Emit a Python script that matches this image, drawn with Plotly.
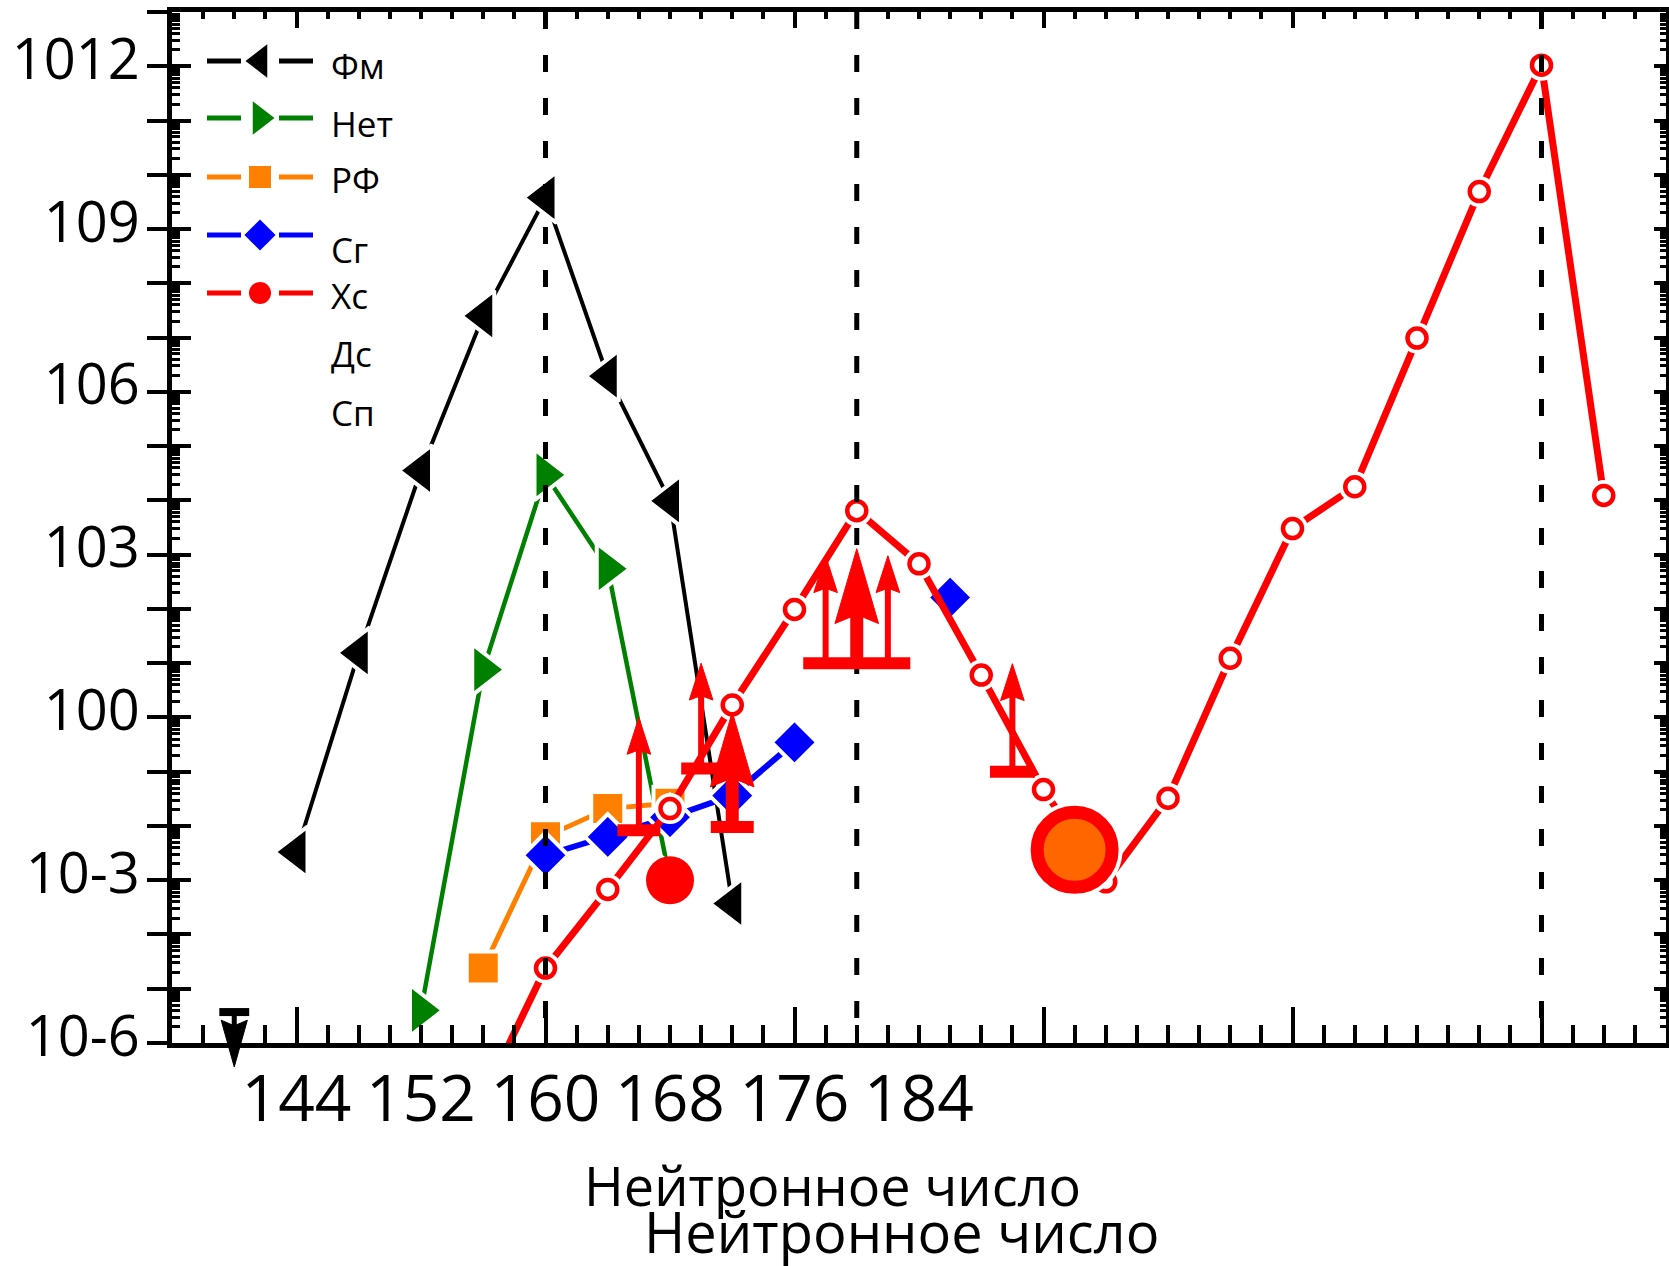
import plotly.graph_objects as go

# ---------------- data (neutron number, log10 half-life / s) ----------------
fm_n = [144, 146, 148, 150, 152, 154, 156, 158]
fm_log_t = [-2.48, 1.19, 4.55, 7.40, 9.58, 6.29, 3.99, -3.43]

no_n = [148, 150, 152, 154, 156]
no_log_t = [-5.40, 0.88, 4.47, 2.74, -3.00]

rf_n = [150, 152, 154, 156]
rf_log_t = [-4.62, -2.20, -1.68, -1.58]

sg_n = [152, 154, 156, 158, 160]
sg_log_t = [-2.54, -2.20, -1.84, -1.44, -0.46]
sg_iso_n = [165]
sg_iso_log_t = [2.21]

hs_n = [150, 152, 154, 156, 158, 160, 162, 164, 166, 168, 170, 172, 174, 176,
        178, 180, 182, 184, 186]
hs_log_t = [-7.00, -4.62, -3.17, -1.68, 0.23, 1.99, 3.81, 2.83, 0.78, -1.33,
            -3.03, -1.49, 1.09, 3.48, 4.25, 6.99, 9.69, 12.02, 4.09]

dot_n = [156]
dot_log_t = [-3.00]
big_n = [169]
big_log_t = [-2.44]

# lower limits (arrows up)
lim_n = [155, 157, 158, 161, 162, 163, 167]
lim_from = [-2.08, -0.94, -2.02, 1.00, 1.00, 1.00, -1.00]
lim_to = [0.00, 1.00, 0.10, 2.98, 3.11, 2.98, 0.99]
lim_thick = [False, False, True, False, True, False, False]
bar_n = [155, 157, 158, 162, 167]
bar_log_t = [-2.08, -0.94, -2.02, 1.00, -1.00]
bar_half = [0.69, 0.64, 0.69, 1.72, 0.72]

# upper limit (arrow down)
ul_n = [142]
ul_from = [-5.43]
ul_to = [-6.44]
ul_bar_half = [0.48]

magic_n = [152, 162, 184]

x_tick_pos = [144, 148, 152, 156, 160, 164]
x_tick_text = ["144", "152", "160", "168", "176", "184"]
y_label_exp = [-6, -3, 0, 3, 6, 9, 12]
y_label_text = ["10-6", "10-3", "100", "103", "106", "109", "1012"]

legend_names = ["Фм", "Нет", "РФ", "Сг", "Хс", "Дс", "Сп"]
axis_title = "Нейтронное число"

# ---------------- layout geometry ----------------
W, H = 1669, 1266
ML, MR, MT, MB = 172, 3, 12, 100
PW = W - ML - MR
PH = H - MT - MB
AXIS_BOTTOM = 1043
D0 = (H - MB - AXIS_BOTTOM) / PH
Y_LO, Y_HI = -6, 13
X_LO, X_HI = 140, 188
Y3_LO = Y_LO - (Y_HI - Y_LO) * D0 / (1 - D0)
MAIN_H = PH * (1 - D0)

BLACK, GREEN, ORANGE, BLUE, RED = "#000000", "#008000", "#ff8000", "#0000ff", "#ff0000"
FONT = "Open Sans"


def pw(v):
    return [10 ** e for e in v]


def paper(px, py):
    return (px - ML) / PW, (H - MB - py) / PH


fig = go.Figure()


def series(n, logt, color, lw, symbol, size):
    fig.add_trace(go.Scatter(
        x=n, y=pw(logt), mode="lines+markers",
        line=dict(color=color, width=lw),
        marker=dict(symbol=symbol, size=size, color=color,
                    line=dict(color="white", width=4)),
        showlegend=False, hoverinfo="skip"))


series(fm_n, fm_log_t, BLACK, 4, "triangle-left", 44)
series(no_n, no_log_t, GREEN, 4.5, "triangle-right", 44)
series(rf_n, rf_log_t, ORANGE, 5, "square", 33)
series(sg_n, sg_log_t, BLUE, 6, "diamond", 35)
fig.add_trace(go.Scatter(x=sg_iso_n, y=pw(sg_iso_log_t), mode="markers",
                         marker=dict(symbol="diamond", size=35, color=BLUE,
                                     line=dict(color="white", width=4)),
                         showlegend=False, hoverinfo="skip"))

# red series: line with white halos, then open circles
fig.add_trace(go.Scatter(x=hs_n, y=pw(hs_log_t), mode="lines+markers",
                         line=dict(color=RED, width=7),
                         marker=dict(size=31, color="white"),
                         showlegend=False, hoverinfo="skip"))
fig.add_trace(go.Scatter(x=hs_n, y=pw(hs_log_t), mode="markers",
                         marker=dict(size=19, color="white",
                                     line=dict(color=RED, width=4.5)),
                         showlegend=False, hoverinfo="skip"))
fig.add_trace(go.Scatter(x=big_n, y=pw(big_log_t), mode="markers",
                         marker=dict(size=96, color="white"),
                         showlegend=False, hoverinfo="skip"))
fig.add_trace(go.Scatter(x=big_n, y=pw(big_log_t), mode="markers",
                         marker=dict(size=75, color="#ff6600",
                                     line=dict(color=RED, width=13)),
                         showlegend=False, hoverinfo="skip"))
fig.add_trace(go.Scatter(x=dot_n, y=pw(dot_log_t), mode="markers",
                         marker=dict(size=48, color=RED),
                         showlegend=False, hoverinfo="skip"))

# dashed magic-number lines
for n in magic_n:
    fig.add_trace(go.Scatter(x=[n, n], y=[10 ** Y_HI, 10 ** Y_LO], mode="lines",
                             line=dict(color=BLACK, width=5, dash="17px,26px"),
                             showlegend=False, hoverinfo="skip"))

# invisible anchors so that the overlay tick axes get drawn
for xa, ya in [("x2", "y"), ("x4", "y"), ("x", "y2"), ("x", "y5")]:
    fig.add_trace(go.Scatter(x=[150], y=[1], xaxis=xa, yaxis=ya, mode="markers",
                             marker=dict(opacity=0), showlegend=False,
                             hoverinfo="skip"))

# ---------------- manual legend (overlay axes in pixel units) ----------------
leg_rows = [49, 106, 165, 223, 281]
leg_colors = [BLACK, GREEN, ORANGE, BLUE, RED]
leg_symbols = ["triangle-left", "triangle-right", "square", "diamond", "circle"]
leg_sizes = [29, 29, 22, 24, 22]
for r, c, s, sz in zip(leg_rows, leg_colors, leg_symbols, leg_sizes):
    fig.add_trace(go.Scatter(x=[35, 69, None, 107, 141], y=[r, r, None, r, r],
                             mode="lines", line=dict(color=c, width=5),
                             xaxis="x6", yaxis="y6", showlegend=False,
                             hoverinfo="skip"))
    fig.add_trace(go.Scatter(x=[88], y=[r], mode="markers",
                             marker=dict(symbol=s, size=sz, color=c),
                             xaxis="x6", yaxis="y6", showlegend=False,
                             hoverinfo="skip"))
leg_text_y = [53, 111, 167, 237, 283, 341, 400]
annotations = []
for name, ty in zip(legend_names, leg_text_y):
    annotations.append(dict(x=157, y=ty, xref="x6", yref="y6", text=name,
                            showarrow=False, xanchor="left", yanchor="middle",
                            font=dict(family=FONT, size=35, color=BLACK)))

# ---------------- limit arrows (separate, unclipped-below subplot) ----------------
def arrows(ns, froms, tos, head_len, head_half):
    sx, sy, hx, hy = [], [], [], []
    for n, a, b in zip(ns, froms, tos):
        d = 1 if b > a else -1
        neck = b - d * head_len
        sx += [n, n, None]
        sy += [10 ** a, 10 ** (neck + d * head_len * 0.3), None]
        hx += [n - head_half, n, n + head_half, n, n - head_half, None]
        hy += [10 ** neck, 10 ** b, 10 ** neck, 10 ** (neck + d * head_len * 0.12),
               10 ** neck, None]
    return sx, sy, hx, hy


def add_arrows(ns, froms, tos, head_len, head_half, shaft_w, color):
    sx, sy, hx, hy = arrows(ns, froms, tos, head_len, head_half)
    fig.add_trace(go.Scatter(x=sx, y=sy, mode="lines",
                             line=dict(color=color, width=shaft_w),
                             xaxis="x3", yaxis="y3", showlegend=False,
                             hoverinfo="skip"))
    fig.add_trace(go.Scatter(x=hx, y=hy, mode="lines", fill="toself",
                             fillcolor=color, line=dict(color=color, width=1),
                             xaxis="x3", yaxis="y3", showlegend=False,
                             hoverinfo="skip"))


def add_bars(ns, logt, halves, width, color):
    bx, by = [], []
    for n, v, h in zip(ns, logt, halves):
        bx += [n - h, n + h, None]
        by += [10 ** v, 10 ** v, None]
    fig.add_trace(go.Scatter(x=bx, y=by, mode="lines",
                             line=dict(color=color, width=width),
                             xaxis="x3", yaxis="y3", showlegend=False,
                             hoverinfo="skip"))


thin = [i for i, t in enumerate(lim_thick) if not t]
thick = [i for i, t in enumerate(lim_thick) if t]
add_bars(bar_n, bar_log_t, bar_half, 12, RED)
add_arrows([lim_n[i] for i in thin], [lim_from[i] for i in thin],
           [lim_to[i] for i in thin], 0.68, 0.38, 6, RED)
add_arrows([lim_n[i] for i in thick], [lim_from[i] for i in thick],
           [lim_to[i] for i in thick], 1.38, 0.70, 13, RED)
add_bars(ul_n, ul_from, ul_bar_half, 8, BLACK)
add_arrows(ul_n, ul_from, ul_to, 0.86, 0.42, 5, BLACK)

# ---------------- axis titles ----------------
tx1, ty1 = paper(832, 1185)
tx2, ty2 = paper(901, 1231)
annotations.append(dict(x=tx1, y=ty1, xref="paper", yref="paper", text=axis_title,
                        showarrow=False, xanchor="center", yanchor="middle",
                        font=dict(family=FONT, size=54, color=BLACK)))
annotations.append(dict(x=tx2, y=ty2, xref="paper", yref="paper", text=axis_title,
                        showarrow=False, xanchor="center", yanchor="middle",
                        font=dict(family=FONT, size=56, color=BLACK)))

# ---------------- axes ----------------
decades = list(range(Y_LO, Y_HI + 1))
dec_vals = [10 ** k for k in decades]
dec_text = [y_label_text[y_label_exp.index(k)] if k in y_label_exp else ""
            for k in decades]
minor_vals = [m * 10 ** k for k in range(Y_LO, Y_HI) for m in range(2, 10)]

common = dict(showgrid=False, zeroline=False, automargin=False)
fig.update_layout(
    width=W, height=H, autosize=False,
    margin=dict(l=ML, r=MR, t=MT, b=MB, pad=0, autoexpand=False),
    paper_bgcolor="white", plot_bgcolor="rgba(0,0,0,0)",
    font=dict(family=FONT, color=BLACK),
    showlegend=False,
    annotations=annotations,
    xaxis=dict(domain=[0, 1], range=[X_LO, X_HI], anchor="y", showline=True,
               linecolor=BLACK, linewidth=5, tickmode="array",
               tickvals=x_tick_pos, ticktext=x_tick_text, ticks="",
               ticklabelstandoff=-4,
               tickfont=dict(family=FONT, size=64, color=BLACK), **common),
    xaxis2=dict(overlaying="x", anchor="y", side="bottom", range=[X_LO, X_HI],
                tickmode="linear", tick0=144, dtick=8, ticks="inside",
                ticklen=36, tickwidth=4, tickcolor=BLACK, showticklabels=False,
                minor=dict(ticks="inside", tick0=X_LO, dtick=1, ticklen=18,
                           tickwidth=4, tickcolor=BLACK, showgrid=False),
                showline=False, **common),
    xaxis4=dict(overlaying="x", anchor="y", side="top", range=[X_LO, X_HI],
                tickmode="linear", tick0=144, dtick=8, ticks="inside",
                ticklen=16, tickwidth=4, tickcolor=BLACK, showticklabels=False,
                minor=dict(ticks="inside", tick0=X_LO, dtick=1, ticklen=7,
                           tickwidth=4, tickcolor=BLACK, showgrid=False),
                showline=True, linecolor=BLACK, linewidth=5, **common),
    yaxis=dict(domain=[D0, 1], type="log", range=[Y_LO, Y_HI], anchor="x",
               showline=True, linecolor=BLACK, linewidth=5, tickmode="array",
               tickvals=dec_vals, ticktext=dec_text, ticks="outside",
               ticklen=20, tickwidth=4, tickcolor=BLACK, ticklabelstandoff=-4,
               ticklabelshift=-7,
               tickfont=dict(family=FONT, size=56, color=BLACK),
               minor=dict(ticks="inside", tickmode="array", tickvals=minor_vals,
                          ticklen=8, tickwidth=3, tickcolor=BLACK, showgrid=False),
               **common),
    yaxis2=dict(overlaying="y", anchor="x", side="left", type="log",
                range=[Y_LO, Y_HI], tickmode="array", tickvals=dec_vals,
                ticks="inside", ticklen=19, tickwidth=4, tickcolor=BLACK,
                showticklabels=False, showline=False, **common),
    yaxis5=dict(overlaying="y", anchor="x", side="right", type="log",
                range=[Y_LO, Y_HI], tickmode="array", tickvals=dec_vals,
                ticks="inside", ticklen=12, tickwidth=4, tickcolor=BLACK,
                showticklabels=False, showline=True, linecolor=BLACK, linewidth=5,
                minor=dict(ticks="inside", tickmode="array", tickvals=minor_vals,
                           ticklen=6, tickwidth=3, tickcolor=BLACK, showgrid=False),
                **common),
    xaxis6=dict(overlaying="x", anchor="y6", range=[0, PW], visible=False, **common),
    yaxis6=dict(overlaying="y", anchor="x6", range=[MAIN_H, 0], visible=False, **common),
    xaxis3=dict(domain=[0, 1], anchor="y3", range=[X_LO, X_HI], visible=False, **common),
    yaxis3=dict(domain=[0, 1], anchor="x3", type="log", range=[Y3_LO, Y_HI],
                visible=False, **common),
)

fig.write_html("out.html", config={"displayModeBar": False})
